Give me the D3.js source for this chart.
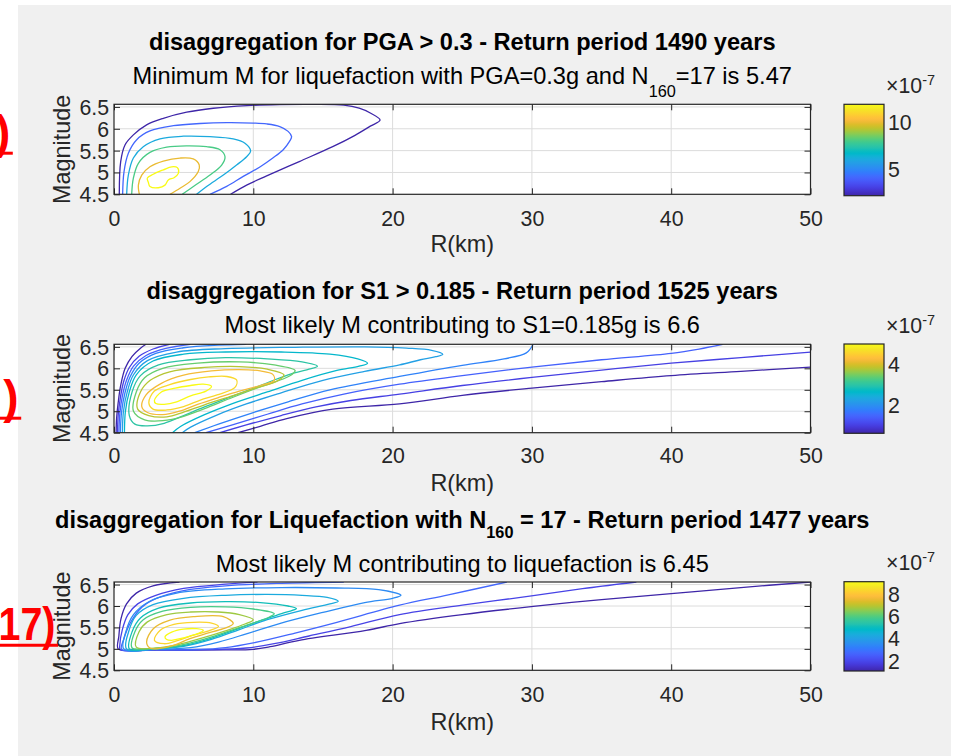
<!DOCTYPE html>
<html>
<head>
<meta charset="utf-8">
<script src="https://cdn.jsdelivr.net/npm/d3@7"></script>
<style>
  html, body { margin: 0; padding: 0; background: #ffffff; }
  svg { display: block; font-family: "Liberation Sans", Arial, Helvetica, sans-serif; }
</style>
</head>
<body>
<svg id="fig" width="964" height="756"></svg>
<script>
// ---------------- data ----------------
const rDomain = [0, 50];
const magDomain = [4.5, 6.56];
const rTicks = [0, 10, 20, 30, 40, 50];
const magTicks = [4.5, 5, 5.5, 6, 6.5];
const magTickLabels = ["4.5", "5", "5.5", "6", "6.5"];

// colour limits (x 1e-7) and colourbar ticks for each panel
const pgaCLim = [2.1, 11.95];
const pgaCbTicks = [5, 10];
const s1CLim = [0.6, 5.0];
const s1CbTicks = [2, 4];
const liqCLim = [1.07, 9.11];
const liqCbTicks = [2, 4, 6, 8];

// contour levels (x 1e-7)
const pgaLevels = [2.1, 4.07, 6.04, 8.01, 9.98, 11.95];
const s1Levels = [0.6, 1.0, 1.4, 1.8, 2.2, 2.6, 3.0, 3.4, 3.8, 4.2, 4.6, 5.0];
const liqLevels = [1.07, 1.874, 2.678, 3.482, 4.286, 5.09, 5.894, 6.698, 7.502, 8.306, 9.11];

// contour lines: [level index, closed?, [[R(km), M], ...]]
const pgaContours = [
  [0, false, [[0.38,4.5],[0.48,5.25],[0.79,5.63],[1.39,5.86],[2.34,6.09],[3.54,6.24],[5.22,6.38],[7.13,6.47],[9.52,6.53],[11.9,6.555],[14.3,6.56],[16.5,6.54],[17.6,6.47],[18.4,6.36],[19.1,6.2],[18.4,6.06],[17.3,5.85],[15.7,5.59],[13.3,5.25],[10.96,4.92],[9.52,4.71],[8.37,4.5]]],
  [1, false, [[0.62,4.5],[0.72,5.02],[1.03,5.44],[1.63,5.75],[2.58,5.95],[4.26,6.07],[6.17,6.12],[8.09,6.14],[10.0,6.13],[10.96,6.11],[11.9,6.05],[12.5,5.94],[12.75,5.82],[12.6,5.71],[12.15,5.52],[11.4,5.33],[10.5,5.13],[9.28,4.91],[8.09,4.68],[6.89,4.5]]],
  [2, false, [[0.91,4.5],[1.03,4.94],[1.39,5.33],[2.1,5.59],[3.3,5.77],[4.98,5.83],[6.89,5.82],[8.56,5.77],[9.4,5.67],[9.81,5.49],[9.52,5.36],[8.8,5.17],[7.85,4.94],[6.65,4.68],[5.93,4.5]]],
  [3, false, [[1.27,4.5],[1.39,4.87],[1.75,5.21],[2.58,5.46],[3.78,5.58],[5.22,5.61],[6.65,5.59],[7.61,5.52],[7.97,5.36],[7.73,5.17],[6.89,4.94],[5.8,4.7],[4.9,4.5]]],
  [4, false, [[1.82,4.5],[1.75,4.71],[1.99,4.94],[2.58,5.13],[3.54,5.26],[4.74,5.33],[5.69,5.31],[6.12,5.17],[6.05,5.02],[5.45,4.79],[4.74,4.64],[4.02,4.5]]],
  [5, true,  [[2.46,4.78],[2.39,4.87],[2.82,4.96],[3.54,5.06],[4.14,5.13],[4.55,5.11],[4.62,4.98],[4.31,4.88],[3.9,4.83],[3.66,4.71],[3.18,4.65],[2.58,4.68]]]
];

const s1Contours = [
  [0, false, [[0.15,4.5],[0.19,4.85],[0.3,5.2],[0.48,5.6],[0.8,6.0],[1.3,6.28],[1.9,6.47],[2.3,6.56]]],
  [0, false, [[8.9,4.5],[10.5,4.65],[12.4,4.83],[15.7,5.05],[20.5,5.17],[25,5.37],[30,5.54],[35,5.69],[40,5.83],[45,5.93],[50,6.03]]],
  [1, false, [[0.25,4.5],[0.3,4.9],[0.45,5.3],[0.7,5.7],[1.1,6.02],[1.8,6.28],[2.8,6.45],[4.0,6.56]]],
  [1, false, [[7.6,4.5],[9.5,4.68],[12,4.9],[14.5,5.1],[17,5.25],[20.5,5.4],[25,5.6],[30,5.79],[35,5.96],[40,6.12],[45,6.25],[50,6.38]]],
  [2, false, [[0.35,4.5],[0.42,4.95],[0.6,5.35],[0.9,5.72],[1.4,6.05],[2.3,6.3],[3.8,6.47],[5.5,6.56]]],
  [2, false, [[6.6,4.5],[8.5,4.68],[11,4.93],[13.5,5.17],[16.5,5.4],[20.5,5.63],[25,5.83],[30,6.03],[35,6.2],[40,6.35],[42,6.45],[43.7,6.56]]],
  [3, false, [[0.45,4.5],[0.55,5.0],[0.78,5.42],[1.15,5.8],[1.8,6.12],[3,6.35],[5,6.48],[7.5,6.54],[9.5,6.56]]],
  [3, false, [[5.8,4.5],[7.5,4.7],[10,4.97],[12.5,5.22],[15.5,5.5],[20.5,5.81],[25,6.07],[28,6.22],[29.6,6.36],[30.1,6.56]]],
  [4, false, [[0.6,4.5],[0.68,5.0],[0.95,5.45],[1.4,5.85],[2.4,6.18],[4.5,6.38],[8,6.46],[13,6.49],[18,6.5],[21,6.47],[22.8,6.42],[23.6,6.33],[23.1,6.27],[22,6.2],[20.5,6.08],[18,5.93],[15,5.72],[12,5.43],[9.5,5.17],[7.3,4.9],[5.5,4.63],[4.9,4.5]]],
  [5, false, [[0.75,4.5],[0.82,5.0],[1.1,5.45],[1.6,5.85],[2.8,6.17],[5,6.33],[8,6.38],[12,6.38],[15.5,6.33],[17.5,6.22],[18.2,6.12],[17.6,6.05],[16,5.95],[13.5,5.72],[11,5.45],[8.5,5.18],[6.5,4.92],[4.8,4.65],[4.2,4.5]]],
  [6, true,  [[1.1,4.9],[1.3,5.45],[1.9,5.83],[3.2,6.08],[5.5,6.2],[8,6.25],[11,6.22],[13.5,6.15],[14.6,6.05],[14.0,5.98],[12.5,5.85],[10.5,5.6],[8.5,5.35],[6.5,5.1],[5,4.9],[3.6,4.72],[2.4,4.66],[1.5,4.7]]],
  [7, true,  [[1.4,5.0],[1.6,5.45],[2.2,5.78],[3.5,6.0],[6,6.12],[9,6.15],[11.5,6.08],[13,5.95],[12.6,5.82],[10.5,5.57],[8.5,5.32],[6.5,5.06],[5,4.88],[3.5,4.78],[2.2,4.8]]],
  [8, true,  [[1.7,5.05],[1.9,5.45],[2.6,5.72],[4,5.92],[6.5,6.02],[9,6.04],[11,5.98],[12.2,5.85],[11.8,5.72],[10,5.52],[8.5,5.36],[6.5,5.15],[5,4.98],[3.8,4.87],[2.5,4.9]]],
  [9, true,  [[2.0,5.1],[2.3,5.38],[3.4,5.65],[5.0,5.84],[7,5.94],[9,5.97],[10.5,5.94],[11.4,5.86],[11.5,5.72],[10.5,5.6],[9,5.47],[7.5,5.32],[6,5.16],[4.7,5.0],[3.5,4.92],[2.4,4.97]]],
  [10, true, [[2.5,5.2],[2.9,5.47],[4.0,5.62],[5.5,5.74],[6.8,5.8],[8.1,5.81],[8.8,5.73],[8.7,5.56],[7.4,5.38],[6.2,5.26],[5.0,5.11],[3.8,5.03],[2.8,5.05]]],
  [11, true, [[2.9,5.25],[3.4,5.45],[4.4,5.54],[5.5,5.6],[6.4,5.63],[7.0,5.58],[6.6,5.47],[5.5,5.36],[4.5,5.22],[3.6,5.16],[3.0,5.18]]]
];

const liqContours = [
  [0, false, [[4.7,6.56],[2.8,6.47],[1.6,6.3],[0.9,6.05],[0.5,5.7],[0.35,5.3],[0.3,5.0],[1.5,4.975],[5,4.97],[8,4.975],[10,4.99],[11.2,5.05],[13.3,5.2],[18.1,5.43],[20.5,5.59],[25,5.8],[30.1,5.99],[35,6.15],[40,6.29],[45,6.43],[50,6.56]]],
  [1, false, [[10.3,6.56],[8,6.51],[5,6.41],[3,6.25],[1.7,6.05],[1,5.8],[0.6,5.45],[0.42,5.1],[0.45,4.985],[3,4.975],[7,4.98],[9.5,5.02],[11.5,5.12],[14,5.3],[17,5.52],[20.5,5.8],[25,6.02],[30.1,6.24],[34,6.42],[37.5,6.56]]],
  [2, false, [[16.5,6.56],[12,6.53],[8,6.47],[5,6.36],[3,6.17],[2,5.97],[1.2,5.62],[0.7,5.22],[0.55,4.99],[3,4.98],[6,4.985],[8,5.03],[10,5.14],[13,5.37],[16,5.62],[20.5,6.02],[24,6.26],[28.2,6.56]]],
  [3, true,  [[0.7,5.0],[0.85,5.4],[1.4,5.8],[2.5,6.1],[4.5,6.3],[8,6.4],[12,6.43],[16,6.42],[19,6.38],[20.6,6.25],[20,6.18],[18,6.08],[15,5.85],[12,5.6],[9.5,5.35],[7.5,5.16],[5.5,5.03],[3,4.99]]],
  [4, true,  [[0.9,5.0],[1.05,5.4],[1.6,5.78],[2.8,6.03],[5,6.18],[8,6.25],[11,6.27],[13.5,6.25],[15.3,6.2],[16.1,6.11],[15.5,6.05],[13.5,5.9],[11,5.68],[9,5.45],[7,5.22],[5,5.06],[3,5.0]]],
  [5, true,  [[1.1,5.0],[1.3,5.4],[1.9,5.72],[3.2,5.95],[5.5,6.07],[8,6.1],[10.5,6.08],[12.5,6.0],[13.1,5.94],[12.3,5.85],[10.5,5.66],[8.5,5.42],[6.5,5.2],[4.5,5.05],[2.5,5.0]]],
  [6, true,  [[1.3,5.02],[1.5,5.4],[2.1,5.68],[3.5,5.88],[5.5,5.97],[8,5.98],[10,5.93],[11.5,5.82],[11,5.72],[9.5,5.55],[7.5,5.33],[5.5,5.14],[3.5,5.02],[2.2,5.0]]],
  [7, true,  [[1.6,5.04],[1.8,5.4],[2.4,5.63],[3.8,5.8],[5.5,5.86],[7.5,5.86],[9,5.8],[10,5.68],[9.4,5.58],[8,5.42],[6.3,5.25],[4.6,5.1],[3,5.02]]],
  [8, true,  [[2.34,5.16],[2.82,5.47],[4.02,5.67],[5.69,5.75],[7.85,5.75],[8.56,5.59],[7.85,5.47],[6.65,5.36],[5.45,5.24],[4.26,5.08],[3.3,5.01],[2.58,5.02]]],
  [9, true,  [[2.9,5.2],[3.3,5.43],[4.3,5.57],[5.7,5.62],[7.0,5.6],[7.5,5.52],[6.8,5.42],[5.7,5.32],[4.6,5.2],[3.6,5.12]]],
  [10, true, [[3.66,5.28],[4.14,5.39],[4.98,5.46],[5.93,5.47],[6.41,5.43],[6.05,5.36],[5.45,5.3],[4.74,5.24],[4.14,5.2],[3.78,5.22]]]
];

// titles: [text, subscript?]
const pgaTitle = [["disaggregation for PGA > 0.3 - Return period 1490 years", false]];
const pgaSubtitle = [["Minimum M for liquefaction with PGA=0.3g and N", false], ["160", true], ["=17 is 5.47", false]];
const s1Title = [["disaggregation for S1 > 0.185 - Return period 1525 years", false]];
const s1Subtitle = [["Most likely M contributing to S1=0.185g is 6.6", false]];
const liqTitle = [["disaggregation for Liquefaction with N", false], ["160", true], [" = 17 - Return period 1477 years", false]];
const liqSubtitle = [["Most likely M contributing to liquefaction is 6.45", false]];

// parula colour map (64-entry table, every other entry)
const parulaStops = [
  [0, "#3e26a8"], [3, "#4432cb"], [5, "#463cde"], [7, "#4747eb"], [9, "#4852f4"],
  [11, "#465efb"], [13, "#4269fe"], [15, "#3875fe"], [17, "#2f81fa"], [19, "#2d8cf3"],
  [21, "#2796eb"], [23, "#23a0e5"], [25, "#1ca9df"], [27, "#12b1d6"], [29, "#01b8ca"],
  [31, "#0bbdbd"], [33, "#24c1ae"], [35, "#31c69f"], [37, "#3fca8e"], [39, "#57cc7a"],
  [41, "#72cd64"], [43, "#8fcb4e"], [45, "#abc739"], [47, "#c5c22a"], [49, "#dcbd29"],
  [51, "#f0ba36"], [53, "#febe3c"], [55, "#fec934"], [57, "#fad62d"], [59, "#f5e327"],
  [61, "#f6ef20"], [63, "#f9fb15"]
];
const parula = d3.scaleLinear()
  .domain(parulaStops.map(d => d[0] / 63))
  .range(parulaStops.map(d => d[1]))
  .interpolate(d3.interpolateRgb)
  .clamp(true);

// ---------------- layout ----------------
const svg = d3.select("#fig");
const INK = "#262626";
const TICK_FONT = 21.3;
const LABEL_FONT = 23.4;
const TITLE_FONT = 23.6;

svg.append("rect").attr("x", 18).attr("y", 5).attr("width", 933).attr("height", 751).attr("fill", "#f0f0f0");

const xScale = d3.scaleLinear().domain(rDomain).range([114, 810.5]);
const axisCx = (xScale.range()[0] + xScale.range()[1]) / 2;

const panels = [
  { id: "pga", top: 104.3, bottom: 194.3, cbTop: 104.3, cbBottom: 195.7, clim: pgaCLim, cbTicks: pgaCbTicks,
    levels: pgaLevels, contours: pgaContours, title: pgaTitle, subtitle: pgaSubtitle,
    titleY: 50, subY: 83.5, subShiftTitle: 0, subShiftSub: 13.3, xlabY: 251.5, tickY: 226.5 },
  { id: "s1", top: 344.3, bottom: 432.7, cbTop: 344, cbBottom: 433.3, clim: s1CLim, cbTicks: s1CbTicks,
    levels: s1Levels, contours: s1Contours, title: s1Title, subtitle: s1Subtitle,
    titleY: 298.5, subY: 333.3, subShiftTitle: 0, subShiftSub: 0, xlabY: 491, tickY: 463.5 },
  { id: "liq", top: 582, bottom: 670.3, cbTop: 581.7, cbBottom: 671, clim: liqCLim, cbTicks: liqCbTicks,
    levels: liqLevels, contours: liqContours, title: liqTitle, subtitle: liqSubtitle,
    titleY: 527.5, subY: 571.5, subShiftTitle: 10, subShiftSub: 0, xlabY: 730, tickY: 702 }
];

// colourbar gradient
const defs = svg.append("defs");
const grad = defs.append("linearGradient").attr("id", "parulaGrad")
  .attr("x1", 0).attr("y1", 1).attr("x2", 0).attr("y2", 0);
d3.range(0, 1.0001, 0.02).forEach(t => {
  grad.append("stop").attr("offset", t).attr("stop-color", parula(t));
});

function richText(sel, parts, shift, subSize) {
  let down = 0;
  parts.forEach(([str, sub]) => {
    const ts = sel.append("tspan").text(str);
    if (sub) {
      ts.attr("font-size", subSize).attr("dy", shift);
      down = shift;
    } else if (down) {
      ts.attr("dy", -down);
      down = 0;
    }
  });
}

panels.forEach(p => {
  const y = d3.scaleLinear().domain(magDomain).range([p.bottom, p.top]);
  const g = svg.append("g").attr("class", "panel-" + p.id);
  const x0 = xScale(rDomain[0]), x1 = xScale(rDomain[1]);
  const y0 = y(magDomain[1]), y1 = y(magDomain[0]);

  // plot area
  g.append("rect").attr("x", x0).attr("y", y0).attr("width", x1 - x0).attr("height", y1 - y0).attr("fill", "#ffffff");

  // grid
  const grid = g.append("g").attr("stroke", "#dcdcdc").attr("stroke-width", 1);
  rTicks.slice(1, -1).forEach(v => grid.append("line").attr("x1", xScale(v)).attr("x2", xScale(v)).attr("y1", y0).attr("y2", y1));
  magTicks.slice(1).forEach(v => grid.append("line").attr("x1", x0).attr("x2", x1).attr("y1", y(v)).attr("y2", y(v)));

  // contours
  const clipId = "clip-" + p.id;
  defs.append("clipPath").attr("id", clipId).append("rect")
    .attr("x", x0).attr("y", y0).attr("width", x1 - x0).attr("height", y1 - y0);
  const colour = d3.scaleLinear().domain(p.clim).range([0, 1]);
  const lineOpen = d3.line().x(d => xScale(d[0])).y(d => y(d[1])).curve(d3.curveCatmullRom.alpha(0.5));
  const lineClosed = d3.line().x(d => xScale(d[0])).y(d => y(d[1])).curve(d3.curveCatmullRomClosed.alpha(0.5));
  const cg = g.append("g").attr("clip-path", `url(#${clipId})`);
  cg.selectAll("path").data(p.contours).join("path")
    .attr("d", d => (d[1] ? lineClosed : lineOpen)(d[2]))
    .attr("fill", "none")
    .attr("stroke", d => parula(colour(p.levels[d[0]])))
    .attr("stroke-width", 1.3)
    .attr("stroke-linejoin", "round");

  // axes (ticks point inward on all four sides)
  const tl = 6;
  const axB = g.append("g").attr("transform", `translate(0,${y1})`)
    .call(d3.axisBottom(xScale).tickValues(rTicks).tickSize(-tl).tickSizeOuter(0).tickFormat(d3.format("d")));
  axB.selectAll("text").attr("y", p.tickY - y1).attr("dy", 0);
  const axT = g.append("g").attr("transform", `translate(0,${y0})`)
    .call(d3.axisTop(xScale).tickValues(rTicks).tickSize(-tl).tickSizeOuter(0).tickFormat(""));
  const axL = g.append("g").attr("transform", `translate(${x0},0)`)
    .call(d3.axisLeft(y).tickValues(magTicks).tickSize(-tl).tickSizeOuter(0).tickFormat((d, i) => magTickLabels[i]));
  axL.selectAll("text").attr("x", -5).attr("dy", "0.35em");
  const axR = g.append("g").attr("transform", `translate(${x1},0)`)
    .call(d3.axisRight(y).tickValues(magTicks).tickSize(-tl).tickSizeOuter(0).tickFormat(""));
  [axB, axT, axL, axR].forEach(a => {
    a.select(".domain").remove();
    a.attr("font-family", null).attr("font-size", TICK_FONT);
    a.selectAll("line").attr("stroke", INK).attr("stroke-width", 1);
    a.selectAll("text").attr("fill", INK);
  });
  g.append("rect").attr("x", x0).attr("y", y0).attr("width", x1 - x0).attr("height", y1 - y0)
    .attr("fill", "none").attr("stroke", INK).attr("stroke-width", 1.2);

  // axis labels
  g.append("text").attr("x", axisCx).attr("y", p.xlabY).attr("text-anchor", "middle")
    .attr("font-size", LABEL_FONT).attr("fill", INK).text("R(km)");
  g.append("text").attr("transform", `translate(69.5,${(y0 + y1) / 2}) rotate(-90)`)
    .attr("text-anchor", "middle").attr("font-size", LABEL_FONT).attr("fill", INK).text("Magnitude");

  // titles
  const t1 = g.append("text").attr("x", axisCx).attr("y", p.titleY).attr("text-anchor", "middle")
    .attr("font-size", TITLE_FONT).attr("font-weight", "bold").attr("fill", "#000");
  richText(t1, p.title, p.subShiftTitle, 16.3);
  const t2 = g.append("text").attr("x", axisCx).attr("y", p.subY).attr("text-anchor", "middle")
    .attr("font-size", TITLE_FONT).attr("fill", "#000");
  richText(t2, p.subtitle, p.subShiftSub, 16.3);

  // colourbar
  const cbX = 844, cbW = 40;
  const cbY = d3.scaleLinear().domain(p.clim).range([p.cbBottom, p.cbTop]);
  g.append("rect").attr("x", cbX).attr("y", p.cbTop).attr("width", cbW).attr("height", p.cbBottom - p.cbTop)
    .attr("fill", "url(#parulaGrad)").attr("stroke", INK).attr("stroke-width", 1.2);
  const axC = g.append("g").attr("transform", `translate(${cbX + cbW},0)`)
    .call(d3.axisRight(cbY).tickValues(p.cbTicks).tickSize(0).tickSizeOuter(0).tickFormat(d3.format("d")));
  axC.select(".domain").remove();
  axC.selectAll("line").remove();
  axC.attr("font-family", null).attr("font-size", TICK_FONT);
  axC.selectAll("text").attr("x", 4).attr("fill", INK).attr("dy", "0.35em");
  const ex = g.append("text").attr("x", 886).attr("y", p.cbTop - 11.5)
    .attr("font-size", TICK_FONT).attr("fill", INK);
  ex.append("tspan").text("\u00d710");
  ex.append("tspan").attr("font-size", 14.5).attr("dy", -8).text("-7");
});

// red slide labels running in from the left edge
const redLabels = [
  { text: ")", x: 10.3, y: 148.3, u: 153.2, w: null },
  { text: ")", x: 18.7, y: 413.3, u: 418.2, w: null },
  { text: "17)", x: 55.5, y: 640, u: 645.2, w: 57 }
];
redLabels.forEach(d => {
  const t = svg.append("text").attr("x", d.x).attr("y", d.y).attr("text-anchor", "end")
    .attr("font-size", 46).attr("font-weight", "bold").attr("fill", "#ff0000").text(d.text);
  if (d.w) t.attr("textLength", d.w).attr("lengthAdjust", "spacingAndGlyphs");
  svg.append("line").attr("x1", 0).attr("x2", d.x + 2.5).attr("y1", d.u).attr("y2", d.u)
    .attr("stroke", "#ff0000").attr("stroke-width", 3);
});
</script>
</body>
</html>
